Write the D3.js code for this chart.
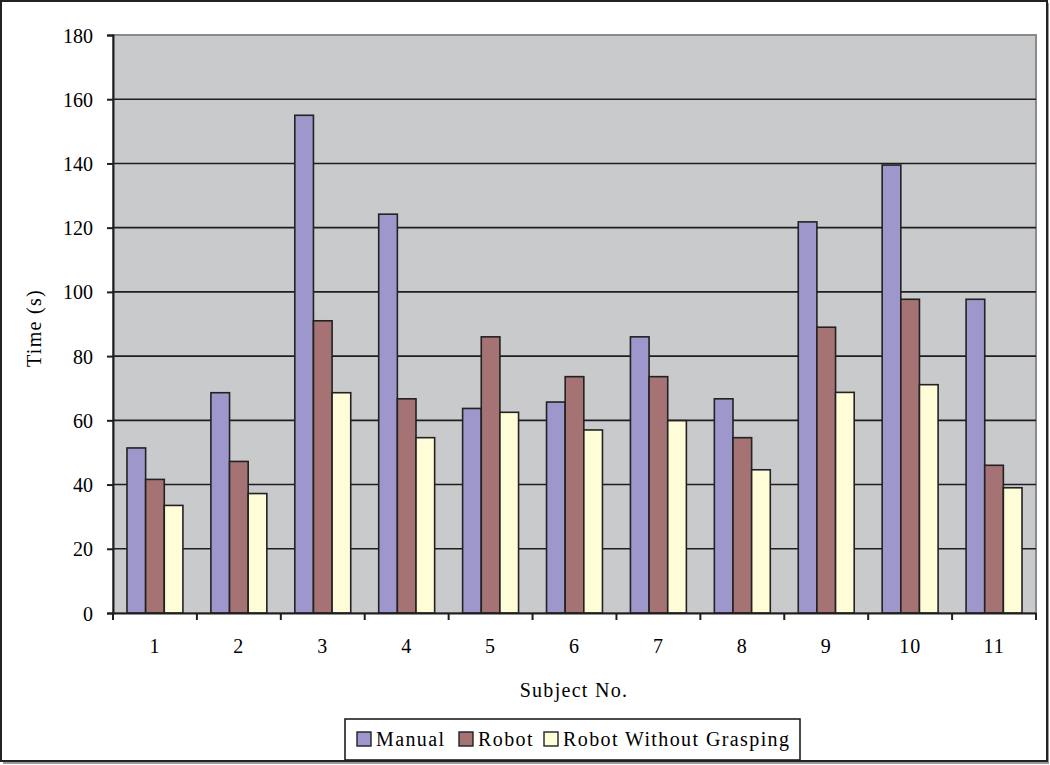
<!DOCTYPE html>
<html>
<head>
<meta charset="utf-8">
<script src="https://cdn.jsdelivr.net/npm/d3@7"></script>
<style>
  body { margin: 0; background: #fff; }
  svg { display: block; }
  text { font-family: "Liberation Serif", "DejaVu Serif", serif; fill: #000; }
</style>
</head>
<body>
<svg id="chart" width="1050" height="765"></svg>
<script>
const subjects = ["1","2","3","4","5","6","7","8","9","10","11"];
const manual = [51.4, 68.6, 155, 124.2, 63.7, 65.7, 86, 66.7, 121.8, 139.5, 97.7];
const robot = [41.6, 47.2, 91, 66.7, 86, 73.6, 73.6, 54.6, 89, 97.7, 46];
const robotNoGrasp = [33.5, 37.2, 68.6, 54.6, 62.5, 57, 59.9, 44.6, 68.7, 71.1, 39];
const seriesNames = ["Manual", "Robot", "Robot Without Grasping"];
const yTicks = [0, 20, 40, 60, 80, 100, 120, 140, 160, 180];

const colors = ["#9D97CB", "#A57373", "#FFFCD8"];
const series = [manual, robot, robotNoGrasp];

const svg = d3.select("#chart");

// outer border with shadow
svg.append("rect").attr("x", 3).attr("y", 3).attr("width", 1046).attr("height", 761)
  .attr("fill", "#9a9a9a");
svg.append("rect").attr("x", 1).attr("y", 1).attr("width", 1046).attr("height", 760)
  .attr("fill", "#fff").attr("stroke", "#222").attr("stroke-width", 2);

const L = 113, R = 1036, T = 35, B = 613;

const x = d3.scaleBand().domain(subjects).range([L, R]).padding(0);
const y = d3.scaleLinear().domain([0, 180]).range([B, T]);
const inner = d3.scaleBand().domain(d3.range(3)).range([0, x.bandwidth()])
  .paddingInner(0).paddingOuter(0.75);

// plot area
svg.append("rect").attr("x", L).attr("y", T).attr("width", R - L).attr("height", B - T)
  .attr("fill", "#C9CACC").attr("stroke", "#8a8a8a").attr("stroke-width", 2);

// gridlines
svg.append("g").selectAll("line").data(yTicks.filter(d => d > 0 && d < 180)).join("line")
  .attr("x1", L).attr("x2", R)
  .attr("y1", d => y(d)).attr("y2", d => y(d))
  .attr("stroke", "#1e1e1e").attr("stroke-width", 1.6);

// bars
const g = svg.append("g");
series.forEach((vals, si) => {
  g.append("g").selectAll("rect").data(vals).join("rect")
    .attr("x", (d, i) => x(subjects[i]) + inner(si))
    .attr("y", d => y(d))
    .attr("width", inner.bandwidth())
    .attr("height", d => y(0) - y(d))
    .attr("fill", colors[si])
    .attr("stroke", "#222").attr("stroke-width", 1.6);
});

const FS = "20px";
// y axis
const yAxis = d3.axisLeft(y).tickValues(yTicks).tickSize(6).tickPadding(14);
const ya = svg.append("g").attr("transform", `translate(${L},0)`).call(yAxis);
ya.select(".domain").attr("stroke", "#1e1e1e").attr("stroke-width", 2);
ya.selectAll(".tick line").attr("stroke", "#1e1e1e").attr("stroke-width", 2);
ya.selectAll(".tick text").style("font-family", "Liberation Serif").style("font-size", FS)
  .attr("fill", "#000").attr("dy", "0.35em");

// x axis
const xAxis = d3.axisBottom(x).tickSize(0).tickPadding(26);
const xa = svg.append("g").attr("transform", `translate(0,${B})`).call(xAxis);
xa.select(".domain").attr("stroke", "#1e1e1e").attr("stroke-width", 2);
xa.selectAll(".tick text").style("font-family", "Liberation Serif").style("font-size", FS)
  .style("letter-spacing", "1px").attr("fill", "#000");
// category boundary ticks
xa.append("g").selectAll("line").data(d3.range(subjects.length + 1)).join("line")
  .attr("x1", i => L + i * x.step()).attr("x2", i => L + i * x.step())
  .attr("y1", 0).attr("y2", 7)
  .attr("stroke", "#1e1e1e").attr("stroke-width", 2);

// axis titles
svg.append("text").attr("x", 574).attr("y", 697).attr("text-anchor", "middle")
  .style("font-size", FS).style("letter-spacing", "1.3px").text("Subject No.");
svg.append("text").attr("transform", "translate(41,328) rotate(-90)").attr("text-anchor", "middle")
  .style("font-size", FS).style("letter-spacing", "1.3px").text("Time (s)");

// legend
const lg = svg.append("g");
lg.append("rect").attr("x", 345).attr("y", 719).attr("width", 455).attr("height", 41)
  .attr("fill", "#fff").attr("stroke", "#1e1e1e").attr("stroke-width", 1.6);
const legendX = [357, 459, 544];
seriesNames.forEach((name, i) => {
  lg.append("rect").attr("x", legendX[i]).attr("y", 732).attr("width", 14).attr("height", 14)
    .attr("fill", colors[i]).attr("stroke", "#222").attr("stroke-width", 1.4);
  lg.append("text").attr("x", legendX[i] + 19).attr("y", 746)
    .style("font-size", FS).style("letter-spacing", "1.4px").text(name);
});
</script>
</body>
</html>
